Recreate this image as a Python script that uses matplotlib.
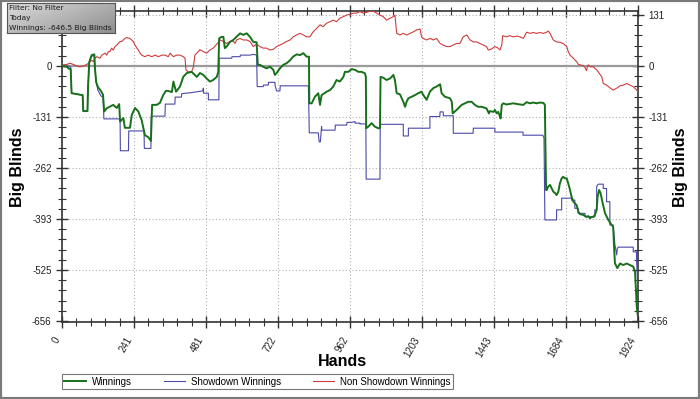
import numpy as np
import matplotlib
matplotlib.use("Agg")
import matplotlib.pyplot as plt
from matplotlib.ticker import AutoMinorLocator
from matplotlib.patches import Rectangle
from matplotlib.lines import Line2D

# === dados ===
win_hands = [0, 17, 21, 29, 32, 69, 71, 85, 87, 91, 99, 108, 110, 114, 120, 130, 137, 141, 149, 171,
             183, 191, 194, 205, 210, 227, 233, 244, 255, 266, 277, 288, 294, 297, 301, 316, 327, 338,
             347, 354, 367, 372, 381, 394, 405, 417, 433, 450, 461,
             472, 483, 494, 505, 517, 522, 525, 533, 539, 544, 550, 561, 572, 583, 595, 605, 617, 628,
             639, 650, 654, 661, 672, 683, 695, 706, 711, 717, 728, 739, 750, 762, 772, 784, 795, 806,
             817, 825, 826, 834, 845, 856, 862, 867, 884, 895, 906, 917, 928, 940,
             945, 956, 968, 979, 990, 1001, 1012, 1015, 1016, 1023, 1034, 1045, 1056, 1062, 1064, 1073,
             1084, 1096, 1107, 1112, 1118, 1129, 1140, 1146, 1151, 1157, 1168, 1179, 1190, 1201, 1207,
             1218, 1229, 1240, 1251, 1263, 1268, 1279, 1296, 1302, 1305, 1318, 1335, 1346, 1357, 1368,
             1379, 1390, 1402, 1418, 1426,
             1429, 1441, 1446, 1452, 1457, 1463, 1465, 1469, 1474, 1485, 1507, 1530, 1541, 1552, 1563,
             1574, 1585, 1597, 1608, 1613,
             1614, 1617, 1619, 1624, 1630, 1636, 1641, 1647, 1652, 1658, 1663, 1669, 1674, 1680, 1686,
             1691, 1697, 1702, 1708, 1719, 1725, 1730, 1741, 1752, 1758, 1764, 1769, 1775, 1780, 1786,
             1789, 1794, 1799, 1806, 1814, 1825, 1836, 1841, 1844, 1847, 1850, 1855, 1858, 1864, 1875,
             1886, 1897, 1908, 1914, 1920, 1924]
win_bb = [0, -2, -6, -8, -70, -75, -116, -116, -54, 10, 28, 30, -5, -41, -54, -64, -74, -117, -109, -100,
          -108, -98, -143, -134, -159, -159, -126, -108, -117, -139, -178, -183, -190, -193, -100, -100, -95, -75,
          -64, -64, -67, -40, -66, -53, -28, -18, -15, -28, -18,
          -23, -32, -40, -36, -28, -15, 71, 75, 75, 46, 50, 62, 67, 75, 84, 80, 84, 75,
          62, 61, 3, 3, -2, -6, -2, -10, -23, -18, -6, 3, 7, 15, 24, 30, 28, 33,
          24, 24, -96, -96, -79, -70, -100, -75, -66, -62, -53, -36, -40, -28,
          -15, -15, -8, -10, -15, -15, -19, -28, -160, -156, -147, -156, -160, -160, -28, -30,
          -36, -32, -23, -36, -70, -73, -92, -105, -92, -83, -79, -75, -70, -66, -75,
          -87, -66, -57, -53, -47, -70, -79, -83, -92, -122, -113, -100, -96, -92, -92,
          -100, -105, -105, -109, -122,
          -116, -118, -113, -122, -118, -130, -135, -100, -96, -99, -96, -99, -100, -93, -96,
          -94, -96, -94, -95, -100,
          -165, -319, -319, -310, -306, -315, -323, -327, -332, -323, -302, -289, -285, -289, -289,
          -302, -319, -336, -349, -358, -375, -381, -383, -388, -386, -392, -388, -388, -383, -370,
          -336, -319, -327, -353, -379, -396, -409, -413, -465, -508, -512, -520, -516, -508, -512,
          -508, -512, -516, -529, -620, -646.5]

sd_hands = [0, 20, 29, 32, 69, 71, 85, 87, 91, 99, 108, 110, 114, 120, 130, 137, 140, 194, 195, 222,
            223, 274, 275, 297, 298, 344, 345, 377, 378, 399, 400, 427, 471,
            472, 473, 489, 489, 524, 525, 567, 568, 595, 596, 628, 639, 650, 652, 672, 673, 689, 690,
            711, 712, 717, 728, 729, 823, 826, 856, 859, 863, 867, 868, 912, 913, 951, 952,
            968, 979, 979, 995, 995, 1015, 1016, 1062, 1063, 1140, 1140, 1157, 1157, 1229, 1229, 1262,
            1263, 1273, 1274, 1307, 1307, 1373, 1374, 1446, 1446, 1540, 1540, 1606, 1610, 1613,
            1652, 1652, 1669, 1669, 1702, 1702, 1713, 1713, 1724, 1724, 1747, 1747, 1780, 1780, 1786,
            1786, 1791, 1808, 1808, 1819, 1819, 1830, 1830, 1841, 1847, 1853, 1855, 1858, 1908, 1908,
            1919, 1919, 1924]
sd_bb = [0, 0, -3, -70, -75, -116, -116, -54, 10, 26, 26, -5, -41, -62, -77, -80, -136, -136, -218, -218,
         -167, -167, -212, -212, -129, -129, -98, -98, -80, -80, -71, -69, -64,
         -57, -70, -70, -87, -87, 20, 20, 24, 24, 28, 28, 30, 28, -53, -53, -49, -49, -42,
         -42, -51, -64, -64, -51, -51, -172, -172, -195, -195, -156, -165, -165, -152, -152, -145,
         -145, -143, -147, -147, -149, -149, -291, -291, -150, -150, -180, -180, -160, -160, -130, -130,
         -118, -118, -128, -128, -173, -173, -160, -160, -170, -170, -178, -178, -185, -396,
         -396, -370, -370, -340, -340, -345, -345, -366, -366, -379, -379, -388, -388, -370, -370,
         -310, -304, -304, -315, -315, -349, -349, -409, -409, -460, -486, -469, -466, -466, -478,
         -478, -495, -580]

nsd_hands = [0, 4, 16, 27, 38, 49, 60, 71, 83, 94, 99, 105, 110, 116, 127, 133, 144, 149, 155, 160,
             166, 171, 177, 183, 188, 194, 199, 205, 210, 216, 227, 238, 244, 250, 255, 261, 266, 277,
             288, 300, 311, 322, 333, 344, 355, 361, 372, 383, 394, 405, 411, 414, 422, 433, 439, 444, 461,
             472, 483, 494, 505, 517, 528, 539, 550, 561, 572, 578, 583, 595, 605, 617, 628, 639, 650,
             661, 672, 683, 695, 706, 717, 728, 739, 750, 762, 772, 784, 795, 806, 817, 828, 839, 851,
             862, 872, 884, 895, 906, 917, 928, 940, 951, 962,
             973, 984, 995, 1006, 1018, 1029, 1040, 1051, 1062, 1073, 1084, 1096, 1107, 1112, 1118,
             1129, 1140, 1151, 1163, 1174, 1185, 1196, 1201, 1207, 1218, 1229, 1240, 1251, 1263, 1273,
             1285, 1296, 1307, 1318, 1329, 1340, 1352, 1363, 1374, 1385, 1396, 1407, 1418, 1424, 1435,
             1446, 1457, 1463, 1469, 1472,
             1485, 1496, 1507, 1519, 1530, 1541, 1546, 1552, 1563, 1574, 1585, 1597, 1608, 1619, 1624,
             1630, 1636, 1641, 1652, 1663, 1674, 1686, 1691, 1697, 1708, 1719, 1725, 1730, 1741, 1747,
             1752, 1755, 1758, 1764, 1775, 1780, 1786, 1791, 1803, 1808, 1819, 1830, 1841, 1853, 1864,
             1875, 1886, 1897, 1908, 1920, 1924]
nsd_bb = [0, 3, 4, 7, 4, 0, -2, 0, 4, 11, 15, 11, 20, 24, 20, 28, 33, 28, 37, 37,
          46, 41, 50, 54, 58, 63, 63, 67, 71, 73, 71, 63, 54, 46, 41, 33, 28, 24,
          28, 24, 28, 24, 28, 28, 24, 33, 24, 28, 28, 24, 20, -10, -15, -15, -2, 28, 42,
          37, 33, 41, 46, 56, 67, 63, 58, 63, 64, 58, 67, 71, 67, 67, 63, 50, 56,
          50, 46, 46, 41, 43, 50, 54, 58, 63, 67, 75, 80, 84, 80, 75, 75, 88, 97,
          106, 101, 110, 114, 118, 114, 123, 127, 131, 133,
          136, 136, 140, 136, 138, 141, 141, 136, 131, 127, 118, 123, 127, 131, 84,
          80, 84, 80, 84, 88, 93, 95, 75, 71, 67, 71, 67, 71, 58, 54,
          50, 50, 54, 58, 58, 75, 80, 67, 62, 62, 58, 54, 50, 41, 44,
          50, 46, 41, 54, 78,
          75, 78, 75, 77, 75, 71, 78, 87, 84, 86, 84, 86, 84, 87, 90,
          84, 75, 67, 62, 61, 58, 50, 37, 28, 20, 11, 4, 3, 1, -4,
          -12, -2, 3, -2, -2, -6, -10, -15, -28, -45, -49, -56, -62, -57, -51,
          -49, -45, -49, -53, -62, -67]

x_ticks = [0, 240.5, 481, 721.5, 962, 1202.5, 1443, 1683.5, 1924]
x_labels = ['0', '241', '481', '722', '962', '1203', '1443', '1684', '1924']
y_ticks = [-656, -524.8, -393.6, -262.4, -131.2, 0, 131.2]
y_labels = ['-656', '-525', '-393', '-262', '-131', '0', '131']

info_linhas = ['Filter: No Filter', 'Today', 'Winnings: -646.5 Big Blinds']

plt.rcParams['font.family'] = ['Liberation Sans', 'DejaVu Sans']

W, H = 700, 399
fig = plt.figure(figsize=(W / 100, H / 100), dpi=100)
fig.patch.set_facecolor('white')

# === area do grafico ===
ax = fig.add_axes([62 / W, 1 - 321.8 / H, 576 / W, 311 / H])
ax.set_xlim(0, 1924)
ax.set_ylim(-658, 142)

ax.grid(True, which='major', linestyle=(0, (1, 2)), color='#b0b0b0', linewidth=0.8)
ax.axhline(0, color='#9a9a9a', linewidth=1.6, zorder=2)

ax.plot(nsd_hands, nsd_bb, color='#d03c3c', linewidth=0.8, zorder=3)
ax.plot(sd_hands, sd_bb, color='#4a4aa8', linewidth=0.8, zorder=4)
ax.plot(win_hands, win_bb, color='#17711a', linewidth=1.4, zorder=5)

ax.set_xticks(x_ticks)
ax.set_xticklabels(x_labels, rotation=60, ha='right', fontsize=7, color='#222222')
ax.set_yticks(y_ticks)
ax.set_yticklabels(y_labels, fontsize=7, color='#222222')
ax.xaxis.set_minor_locator(AutoMinorLocator(5))
ax.yaxis.set_minor_locator(AutoMinorLocator(5))
ax.tick_params(which='major', direction='inout', length=9, width=1, color='#333333',
               top=True, right=True, labelright=True, pad=3)
ax.tick_params(which='minor', direction='inout', length=6, width=0.8, color='#333333',
               top=True, right=True)
ax.tick_params(axis='x', which='major', pad=5)
for s in ax.spines.values():
    s.set_color('#333333')
    s.set_linewidth(1.2)

fig.text(18 / W, 1 - 167 / H, 'Big Blinds', rotation=90, ha='center', va='center',
         fontsize=11.5, fontweight='bold')
fig.text(681 / W, 1 - 167 / H, 'Big Blinds', rotation=90, ha='center', va='center',
         fontsize=11.5, fontweight='bold')
fig.text(342 / W, 1 - 362 / H, 'Hands', ha='center', va='center', fontsize=11.5, fontweight='bold')

# === legenda ===
handles = [Line2D([], [], color='#17711a', linewidth=1.4),
           Line2D([], [], color='#4a4aa8', linewidth=0.8),
           Line2D([], [], color='#d03c3c', linewidth=0.8)]
leg = fig.legend(handles, ['Winnings', 'Showdown Winnings', 'Non Showdown Winnings'],
                 loc='lower left', bbox_to_anchor=(62 / W, 1 - 389 / H, 391 / W, 13 / H),
                 mode='expand', ncol=3, fontsize=7, frameon=True, fancybox=False,
                 handlelength=2.2, handletextpad=0.6, borderpad=0.25, borderaxespad=0)
leg.get_frame().set_edgecolor('#555555')
leg.get_frame().set_linewidth(0.8)

# === caixa de informacao (fundo em degrade) ===
ax_info = fig.add_axes([6.5 / W, 1 - 33 / H, 108.5 / W, 30 / H], zorder=10)
gx, gy = np.meshgrid(np.linspace(0, 1, 100), np.linspace(0, 1, 30))
brilho = 0.86 - 0.30 * (0.6 * gx + 0.4 * gy)
ax_info.imshow(np.dstack([brilho] * 3), aspect='auto', extent=(0, 1, 1, 0))
ax_info.set_xlim(0, 1)
ax_info.set_ylim(1, 0)
ax_info.set_xticks([])
ax_info.set_yticks([])
for s in ax_info.spines.values():
    s.set_color('#555555')
    s.set_linewidth(0.8)
for i, linha in enumerate(info_linhas):
    ax_info.text(0.025, 0.18 + i * 0.32, linha, family='DejaVu Sans', fontsize=5.4,
                 color='#1a1a1a', va='center', ha='left')

# moldura externa
fig.patches.append(Rectangle((0, 0), 1, 1, transform=fig.transFigure, fill=False,
                             edgecolor='#7a7a7a', linewidth=3))

fig.savefig('out.png', dpi=100)
